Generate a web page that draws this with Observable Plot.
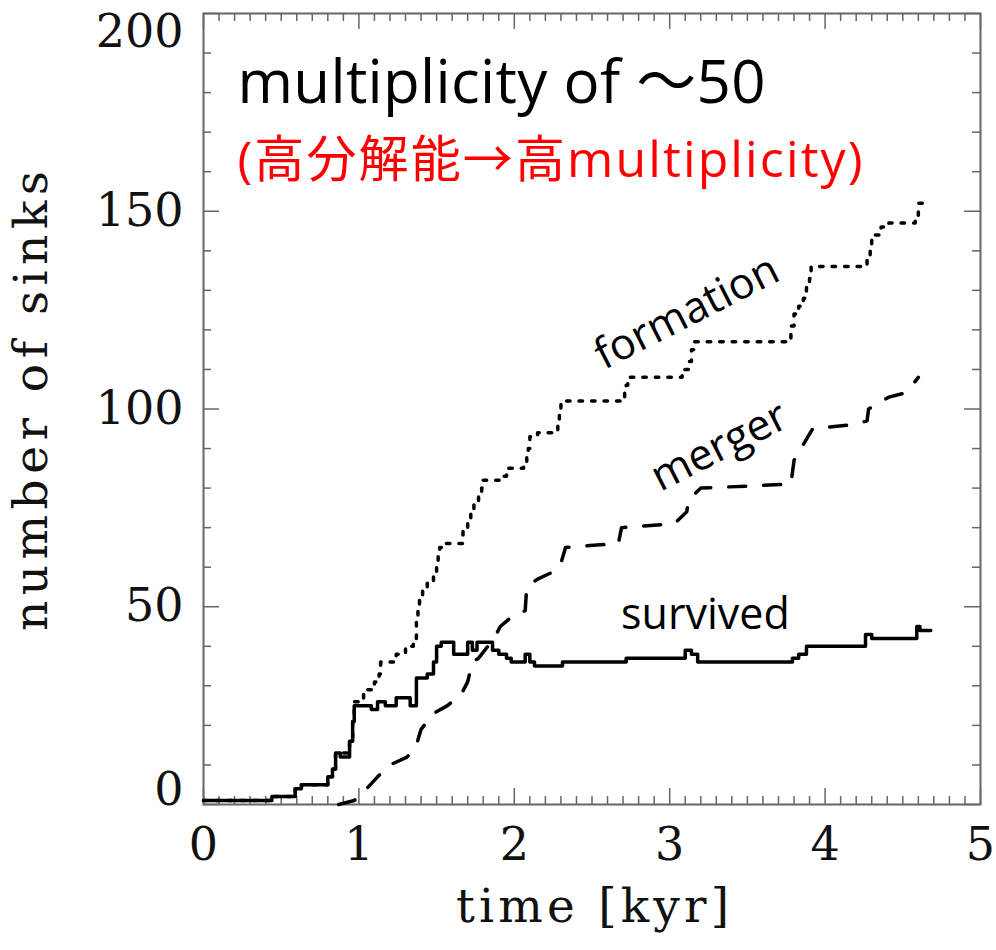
<!DOCTYPE html>
<html><head><meta charset="utf-8">
<script src="https://cdn.jsdelivr.net/npm/d3@7"></script>
<script src="https://cdn.jsdelivr.net/npm/@observablehq/plot@0.6"></script>
<style>body{margin:0;background:#fff}</style>
</head><body><div id="chart"></div>
<script>
// time [kyr] and number of sinks
const survivedT = [0,0.44,0.59,0.63,0.8,0.83,0.85,0.88,0.94,0.96,0.97,1.08,1.12,1.17,1.24,1.33,1.37,1.44,1.48,1.5,1.53,1.61,1.7,1.73,1.76,1.86,1.9,1.95,1.98,2.07,2.1,2.13,2.31,2.72,3.1,3.14,3.18,3.79,3.83,3.88,4.26,4.3,4.59,4.61,4.68];
const survivedN = [1,2,4,5,7,9,13,12,16,21,25,24,26,25,27,25,32,33,36,40,41,38,41,39,41,39,38,37,36,38,36,35,36,37,39,38,36,37,38,40,43,42,45,44,44];

const formationT = [0,0.44,0.59,0.63,0.8,0.83,0.85,0.94,0.96,0.97,1.03,1.1,1.13,1.14,1.24,1.3,1.35,1.37,1.38,1.39,1.41,1.44,1.48,1.5,1.51,1.52,1.54,1.67,1.7,1.72,1.74,1.77,1.79,1.8,1.93,1.95,2.06,2.08,2.09,2.1,2.15,2.28,2.29,2.3,2.71,2.72,2.73,3.08,3.12,3.14,3.16,3.78,3.8,3.83,3.86,3.88,3.9,3.91,4.27,4.29,4.3,4.36,4.41,4.58,4.6,4.65];
const formationN = [1,2,4,5,7,9,13,16,21,26,29,31,33,36,38,40,42,47,49,52,54,56,59,61,63,65,66,70,72,74,76,78,80,82,83,85,86,88,90,93,94,96,99,102,104,106,108,110,112,115,117,121,124,126,128,131,133,136,138,141,144,146,147,149,152,152];

const mergerT = [0.87,0.97,1.05,1.12,1.2,1.31,1.37,1.4,1.48,1.57,1.66,1.7,1.73,1.77,1.87,1.91,2.0,2.07,2.08,2.15,2.26,2.3,2.33,2.67,2.69,3.03,3.11,3.12,3.2,3.78,3.8,3.83,3.89,3.92,4.17,4.27,4.28,4.41,4.51,4.58,4.6];
const mergerN = [0,1,4,7,10,12,15,19,23,25,28,31,36,37,42,45,48,49,55,57,59,61,65,66,70,71,74,77,80,81,87,89,93,95,96,97,100,103,104,107,108];

const xMajor = [0,1,2,3,4,5];
const xMinor = d3.range(0, 51).map(i => i / 10).filter(v => Math.abs(v - Math.round(v)) > 1e-9);
const yMajor = [0,50,100,150,200];
const yMinor = d3.range(0, 201, 10).filter(v => v % 50 !== 0);

const xTitle = "time [kyr]";
const yTitle = "number of sinks";
const headline = "multiplicity of ～50";
const subline = "(高分解能→高multiplicity)";
const curveLabels = [
  {label: "formation", t: 3.11, n: 124.4, rotate: -27},
  {label: "merger", t: 3.32, n: 90.5, rotate: -27},
  {label: "survived", t: 3.23, n: 47.8, rotate: 0}
];

const toRows = (T, N) => T.map((t, i) => ({t, n: N[i]}));
const survived = toRows(survivedT, survivedN);
const formation = toRows(formationT, formationN);
const merger = toRows(mergerT, mergerN);

const W = 996, H = 950, mL = 203, mR = 16, mT = 13, mB = 146;
const iW = W - mL - mR, iH = H - mT - mB;
const tickColor = "#666";
const serif = "DejaVu Serif";
const sans = "Open Sans, Noto Sans CJK JP, sans-serif";

const chart = Plot.plot({
  width: W, height: H,
  marginLeft: mL, marginRight: mR, marginTop: mT, marginBottom: mB,
  x: {domain: [0, 5], axis: null},
  y: {domain: [0, 200], axis: null},
  style: {background: "white", overflow: "visible"},
  marks: [
    // ticks, inward on all four sides
    Plot.tickX(xMajor, {x: d => d, insetTop: iH - 16, stroke: tickColor, strokeWidth: 1.5}),
    Plot.tickX(xMajor, {x: d => d, insetBottom: iH - 16, stroke: tickColor, strokeWidth: 1.5}),
    Plot.tickX(xMinor, {x: d => d, insetTop: iH - 8, stroke: tickColor, strokeWidth: 1.5}),
    Plot.tickX(xMinor, {x: d => d, insetBottom: iH - 8, stroke: tickColor, strokeWidth: 1.5}),
    Plot.tickY(yMajor, {y: d => d, insetRight: iW - 16, stroke: tickColor, strokeWidth: 1.5}),
    Plot.tickY(yMajor, {y: d => d, insetLeft: iW - 16, stroke: tickColor, strokeWidth: 1.5}),
    Plot.tickY(yMinor, {y: d => d, insetRight: iW - 8, stroke: tickColor, strokeWidth: 1.5}),
    Plot.tickY(yMinor, {y: d => d, insetLeft: iW - 8, stroke: tickColor, strokeWidth: 1.5}),
    Plot.frame({stroke: tickColor, strokeWidth: 2}),
    // tick labels
    Plot.text(xMajor, {x: d => d, text: d => String(d), frameAnchor: "bottom", dy: 55, fontSize: 46, fontFamily: serif, fill: "#111"}),
    Plot.text(yMajor.filter(v => v > 0 && v < 200), {y: d => d, text: d => String(d), frameAnchor: "left", textAnchor: "end", dx: -20, fontSize: 46, fontFamily: serif, fill: "#111"}),
    Plot.text(yMajor.filter(v => v === 0), {y: d => d, text: d => String(d), frameAnchor: "left", textAnchor: "end", dx: -20, dy: -14, fontSize: 46, fontFamily: serif, fill: "#111"}),
    Plot.text(yMajor.filter(v => v === 200), {y: d => d, text: d => String(d), frameAnchor: "left", textAnchor: "end", dx: -20, dy: 19, fontSize: 46, fontFamily: serif, fill: "#111"}),
    // axis titles
    Plot.text([xTitle], {text: d => d, frameAnchor: "bottom", textAnchor: "start", dx: -136, dy: 117, fontSize: 47, fontFamily: serif, fill: "#111"}),
    Plot.text([yTitle], {text: d => d, frameAnchor: "left", textAnchor: "start", dx: -172, dy: 222, rotate: -90, fontSize: 47, fontFamily: serif, fill: "#111"}),
    // series
    Plot.line(formation, {x: "t", y: "n", curve: "step-after", stroke: "black", strokeWidth: 3.5, strokeDasharray: "3.5,9"}),
    Plot.line(merger, {x: "t", y: "n", curve: "linear", stroke: "black", strokeWidth: 3.5, strokeDasharray: "17,18"}),
    Plot.line(survived, {x: "t", y: "n", curve: "step-after", stroke: "black", strokeWidth: 3.5}),
    // annotations
    Plot.text(curveLabels, {x: "t", y: "n", text: "label", rotate: d => d.rotate, fontSize: 43, fontFamily: sans, fill: "black"}),
    Plot.text([headline], {text: d => d, frameAnchor: "top-left", dx: 34, dy: 47, textAnchor: "start", fontSize: 60, fontFamily: sans, fill: "black"}),
    Plot.text([subline], {text: d => d, frameAnchor: "top-left", dx: 34, dy: 128, textAnchor: "start", fontSize: 50, fontFamily: sans, fill: "#ff0000"})
  ]
});

const fits = new Map([[yTitle, 460], [xTitle, 273], [headline, 528], [subline, 625]]);
d3.select(chart).selectAll("text").each(function() {
  const t = this.textContent;
  if (fits.has(t)) { this.setAttribute("textLength", fits.get(t)); this.setAttribute("lengthAdjust", "spacing"); }
});
document.getElementById("chart").appendChild(chart);
</script>
</body></html>
